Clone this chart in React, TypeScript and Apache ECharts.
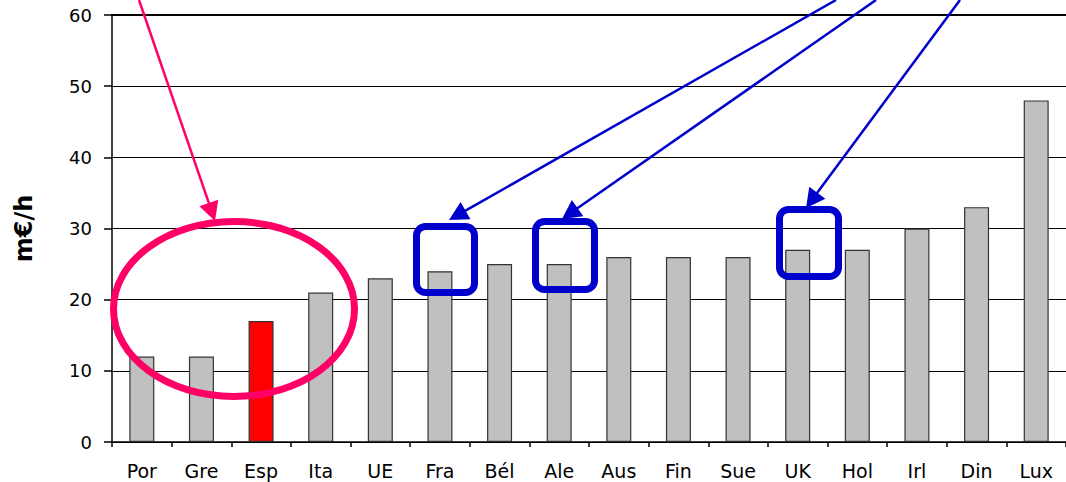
import React, { useEffect, useRef } from "react";
import * as echarts from "echarts";

const categories = ["Por", "Gre", "Esp", "Ita", "UE", "Fra", "Bél", "Ale", "Aus", "Fin", "Sue", "UK", "Hol", "Irl", "Din", "Lux"];
const values = [12, 12, 17, 21, 23, 24, 25, 25, 26, 26, 26, 27, 27, 30, 33, 48];
const highlight = "Esp";
const yAxisTitle = "m€/h";

const PINK = "#FF0066";
const BLUE = "#0000CC";

function arrow(x1: number, y1: number, x2: number, y2: number, color: string, lw: number, headLen: number, headHalf: number) {
  const dx = x2 - x1;
  const dy = y2 - y1;
  const len = Math.sqrt(dx * dx + dy * dy);
  const ux = dx / len;
  const uy = dy / len;
  const bx = x2 - ux * headLen;
  const by = y2 - uy * headLen;
  const px = -uy * headHalf;
  const py = ux * headHalf;
  return [
    {
      type: "line",
      shape: { x1, y1, x2: bx + ux * 2, y2: by + uy * 2 },
      style: { stroke: color, lineWidth: lw },
      z: 100,
    },
    {
      type: "polygon",
      shape: { points: [[x2, y2], [bx + px, by + py], [bx - px, by - py]] },
      style: { fill: color },
      z: 100,
    },
  ];
}

export default function App() {
  const ref = useRef<HTMLDivElement>(null);
  useEffect(() => {
    if (!ref.current) return;
    const chart = echarts.init(ref.current, undefined, { renderer: "svg" });
    const font = "DejaVu Sans";
    chart.setOption({
      animation: false,
      backgroundColor: "#ffffff",
      grid: { left: 112, top: 15, width: 960, height: 427 },
      xAxis: [
        {
          type: "category",
          data: categories,
          boundaryGap: true,
          axisLine: { lineStyle: { color: "#000", width: 1.5 } },
          axisTick: { show: true, length: 5, interval: 0, alignWithLabel: false, lineStyle: { color: "#000", width: 1.5 } },
          axisLabel: { interval: 0, color: "#000", fontFamily: font, fontSize: 19, margin: 19 },
          splitLine: { show: false },
        },
        {
          type: "category",
          data: categories,
          position: "top",
          axisLine: { lineStyle: { color: "#000", width: 2 } },
          axisTick: { show: false },
          axisLabel: { show: false },
        },
      ],
      yAxis: {
        type: "value",
        min: 0,
        max: 60,
        interval: 10,
        name: yAxisTitle,
        nameLocation: "middle",
        nameRotate: 90,
        nameGap: 76,
        nameTextStyle: { fontFamily: font, fontWeight: "bold", fontSize: 24, color: "#000" },
        axisLine: { show: true, lineStyle: { color: "#000", width: 1.5 } },
        axisTick: { show: true, length: 8, lineStyle: { color: "#000", width: 1.5 } },
        axisLabel: { color: "#000", fontFamily: font, fontSize: 18, margin: 20 },
        splitLine: { show: true, lineStyle: { color: "#000", width: 1 } },
      },
      series: [
        {
          type: "bar",
          barWidth: 25,
          data: values.map((v, i) => ({
            value: v,
            itemStyle: categories[i] === highlight ? { color: "#FF0000" } : undefined,
          })),
          itemStyle: { color: "#C0C0C0", borderColor: "#333", borderWidth: 1.2 },
        },
      ],
      graphic: [
        {
          type: "ellipse",
          shape: { cx: 234, cy: 309, rx: 120.5, ry: 87.5 },
          style: { fill: "none", stroke: PINK, lineWidth: 7 },
          z: 100,
        },
        ...arrow(139, 0, 215, 221, PINK, 2.5, 19, 10),
        { type: "rect", shape: { x: 416.5, y: 226.5, width: 58, height: 66, r: 9 }, style: { fill: "none", stroke: BLUE, lineWidth: 7 }, z: 100 },
        { type: "rect", shape: { x: 535.5, y: 221.5, width: 59, height: 68, r: 9 }, style: { fill: "none", stroke: BLUE, lineWidth: 7 }, z: 100 },
        { type: "rect", shape: { x: 779.5, y: 209.5, width: 59, height: 67, r: 9 }, style: { fill: "none", stroke: BLUE, lineWidth: 7 }, z: 100 },
        ...arrow(836, 0, 449, 220, BLUE, 2.5, 19, 10),
        ...arrow(876, 0, 562, 219, BLUE, 2.5, 19, 10),
        ...arrow(960, 0, 806, 208, BLUE, 2.5, 19, 10),
      ],
    });
    return () => chart.dispose();
  }, []);
  return <div ref={ref} style={{ position: "fixed", left: 0, top: 0, width: 1066, height: 482 }} />;
}
